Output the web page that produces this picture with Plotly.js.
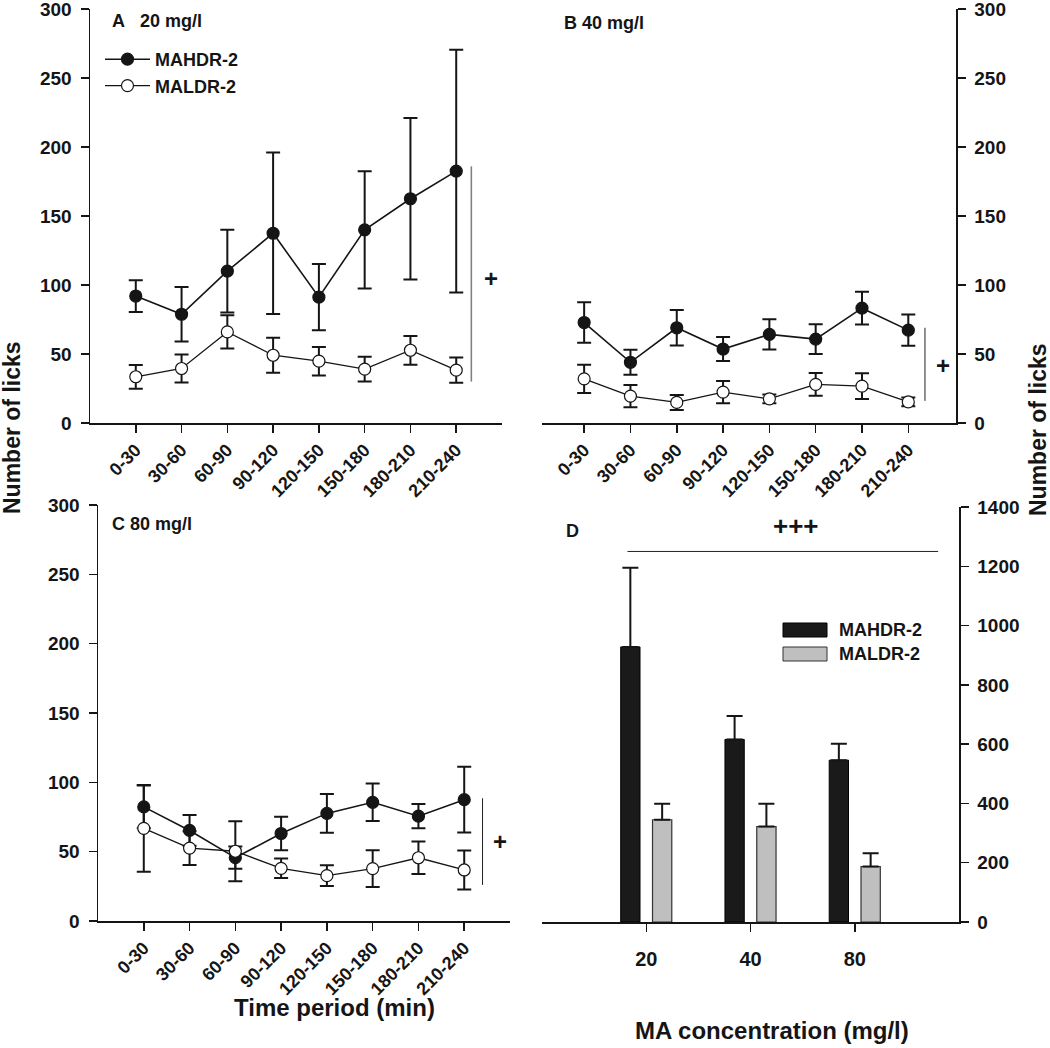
<!DOCTYPE html>
<html>
<head>
<meta charset="utf-8">
<script src="https://cdn.plot.ly/plotly-3.0.1.min.js"></script>
<style>html,body{margin:0;padding:0;background:#fff;}#chart{width:1050px;height:1048px;}</style>
</head>
<body>
<div id="chart"></div>
<script>
// ---------- data ----------
const periods = ['0-30','30-60','60-90','90-120','120-150','150-180','180-210','210-240'];
const seriesNames = ['MAHDR-2','MALDR-2'];

// Panel A: 20 mg/l
const a_hdr = [92, 78.8, 110, 137.5, 91.2, 140, 162.5, 182.5];
const a_hdr_sem = [11.5, 19.8, 30, 58.5, 24, 42.5, 58.5, 88];
const a_ldr = [33.5, 39.5, 66, 49.1, 44.8, 39, 52.7, 38.3];
const a_ldr_sem = [8.6, 10.2, 12, 12.6, 10.3, 9, 10.4, 9.2];

// Panel B: 40 mg/l
const b_hdr = [72.8, 44, 69, 53.6, 64.2, 60.8, 83.2, 67.3];
const b_hdr_sem = [14.7, 9, 12.8, 8.7, 11, 10.8, 11.9, 11.4];
const b_ldr = [32, 19.5, 14.9, 22.4, 17.5, 28, 26.7, 15.3];
const b_ldr_sem = [10.2, 8.1, 5.4, 8, 3.2, 8.2, 9.3, 3.2];

// Panel C: 80 mg/l
const c_hdr = [82.3, 65.3, 45.7, 63.1, 77.6, 85.6, 75.6, 87.5];
const c_hdr_sem = [15.5, 11.1, 8, 12, 14, 13.5, 8.8, 23.7];
const c_ldr = [66.8, 52.6, 50.3, 38, 32.7, 37.8, 45.6, 36.8];
const c_ldr_sem = [31.2, 12.2, 21.7, 7, 7.5, 13.2, 11.7, 14.1];

// Panel D: totals by concentration
const concentrations = ['20','40','80'];
const d_hdr = [928, 616, 546];
const d_hdr_sem = [267, 79, 55];
const d_ldr = [345, 322, 187];
const d_ldr_sem = [54, 77, 45];

// significance markers [x index, y0, y1] and labels
const sigA = [7.33, 30, 186];
const sigB = [7.36, 16, 69];
const sigC = [7.40, 26, 88.5];
const sigD = [-0.18, 2.80, 1250];
const sigLabel = {A:'+', B:'+', C:'+', D:'+++'};

// ---------- styling helpers ----------
const W = 1050, H = 1048;
const X = p => p / W;
const Y = p => 1 - p / H;
const FONT = 'Liberation Sans, Arial, sans-serif';
const NARROW = 'Liberation Sans Narrow, Arial Narrow, Liberation Sans, Arial, sans-serif';
const INK = '#151515';

function lineTrace(x, y, sem, name, filled, xa, ya, showleg) {
  return {
    type: 'scatter', mode: 'lines+markers', x: x, y: y, name: name,
    xaxis: xa, yaxis: ya, showlegend: showleg, legend: 'legend',
    line: {color: INK, width: filled ? 1.6 : 1.3},
    marker: {symbol: 'circle', size: 12, color: filled ? INK : '#ffffff', line: {color: INK, width: 1.2}},
    error_y: {type: 'data', array: sem, visible: true, color: INK, thickness: 2, width: 7},
    cliponaxis: false
  };
}

const traces = [
  lineTrace(periods, a_hdr, a_hdr_sem, seriesNames[0], true, 'x', 'y', true),
  lineTrace(periods, a_ldr, a_ldr_sem, seriesNames[1], false, 'x', 'y', true),
  lineTrace(periods, b_hdr, b_hdr_sem, seriesNames[0], true, 'x2', 'y2', false),
  lineTrace(periods, b_ldr, b_ldr_sem, seriesNames[1], false, 'x2', 'y2', false),
  lineTrace(periods, c_hdr, c_hdr_sem, seriesNames[0], true, 'x3', 'y3', false),
  lineTrace(periods, c_ldr, c_ldr_sem, seriesNames[1], false, 'x3', 'y3', false),
  {
    type: 'bar', x: concentrations, y: d_hdr, name: seriesNames[0], xaxis: 'x4', yaxis: 'y4',
    width: 0.185, offset: -0.245, showlegend: false,
    marker: {color: '#1a1a1a', line: {color: '#000', width: 1}},
    error_y: {type: 'data', symmetric: false, array: d_hdr_sem, arrayminus: d_hdr_sem.map(() => 0), color: INK, thickness: 2, width: 8}
  },
  {
    type: 'bar', x: concentrations, y: d_ldr, name: seriesNames[1], xaxis: 'x4', yaxis: 'y4',
    width: 0.185, offset: 0.06, showlegend: false,
    marker: {color: '#bfbfbf', line: {color: '#333', width: 1.2}},
    error_y: {type: 'data', symmetric: false, array: d_ldr_sem, arrayminus: d_ldr_sem.map(() => 0), color: INK, thickness: 2, width: 8}
  }
];

const tickFont = {family: FONT, size: 19, color: INK, weight: 'bold'};
const xTickFont = {family: FONT, size: 18, color: INK, weight: 'bold'};

function xAxis(domain, range, anchor, extra) {
  return Object.assign({
    domain: domain, range: range, anchor: anchor, type: 'category',
    showline: true, linecolor: INK, linewidth: 1.5, showgrid: false, zeroline: false,
    ticks: 'outside', ticklen: 8, tickwidth: 1.5, tickcolor: INK,
    tickangle: -45, tickfont: xTickFont, ticklabeloverflow: 'allow', fixedrange: true
  }, extra || {});
}
function yAxis(domain, range, dtick, anchor, side, extra) {
  return Object.assign({
    domain: domain, range: range, dtick: dtick, tick0: 0, anchor: anchor, side: side,
    showline: true, linecolor: INK, linewidth: 1.5, showgrid: false, zeroline: false,
    ticks: 'outside', ticklen: 8, tickwidth: 1.5, tickcolor: INK,
    tickfont: tickFont, ticklabelstandoff: 5, ticklabeloverflow: 'allow', fixedrange: true
  }, extra || {});
}

const shapes = [
  {type: 'line', xref: 'x', yref: 'y', x0: sigA[0], x1: sigA[0], y0: sigA[1], y1: sigA[2], line: {color: '#808080', width: 1.6}},
  {type: 'line', xref: 'x2', yref: 'y2', x0: sigB[0], x1: sigB[0], y0: sigB[1], y1: sigB[2], line: {color: '#222', width: 1}},
  {type: 'line', xref: 'x3', yref: 'y3', x0: sigC[0], x1: sigC[0], y0: sigC[1], y1: sigC[2], line: {color: '#222', width: 1}},
  {type: 'line', xref: 'x4', yref: 'y4', x0: sigD[0], x1: sigD[1], y0: sigD[2], y1: sigD[2], line: {color: '#222', width: 1}},
  // custom legend swatches for panel D
  {type: 'rect', xref: 'paper', yref: 'paper', x0: X(783), x1: X(827), y0: Y(637), y1: Y(623), fillcolor: '#1a1a1a', line: {color: '#000', width: 1}},
  {type: 'rect', xref: 'paper', yref: 'paper', x0: X(783), x1: X(827), y0: Y(661), y1: Y(647), fillcolor: '#bfbfbf', line: {color: '#333', width: 1}}
];

const bold = (txt, size, extra) => Object.assign({text: txt, showarrow: false, font: {family: FONT, size: size, color: INK, weight: 'bold'}}, extra);

const annotations = [
  bold('A&nbsp;&nbsp;&nbsp;20 mg/l', 18, {xref: 'paper', yref: 'paper', x: X(110), y: Y(21), xanchor: 'left', yanchor: 'middle'}),
  bold('B 40 mg/l', 18, {xref: 'paper', yref: 'paper', x: X(562), y: Y(23), xanchor: 'left', yanchor: 'middle'}),
  bold('C 80 mg/l', 18, {xref: 'paper', yref: 'paper', x: X(110), y: Y(524), xanchor: 'left', yanchor: 'middle'}),
  bold('D', 18, {xref: 'paper', yref: 'paper', x: X(564), y: Y(531), xanchor: 'left', yanchor: 'middle'}),
  bold(sigLabel.A, 24, {xref: 'x', yref: 'y', x: 7.77, y: 105, xanchor: 'center', yanchor: 'middle'}),
  bold(sigLabel.B, 24, {xref: 'x2', yref: 'y2', x: 7.74, y: 41.6, xanchor: 'center', yanchor: 'middle'}),
  bold(sigLabel.C, 24, {xref: 'x3', yref: 'y3', x: 7.78, y: 57, xanchor: 'center', yanchor: 'middle'}),
  bold(sigLabel.D, 26, {xref: 'x4', yref: 'y4', x: 1.44, y: 1335, xanchor: 'center', yanchor: 'middle'}),
  bold(seriesNames[0], 18, {xref: 'paper', yref: 'paper', x: X(837), y: Y(630), xanchor: 'left', yanchor: 'middle'}),
  bold(seriesNames[1], 18, {xref: 'paper', yref: 'paper', x: X(837), y: Y(654), xanchor: 'left', yanchor: 'middle'}),
  bold('Number of licks', 23, {xref: 'paper', yref: 'paper', x: X(12), y: Y(428), textangle: -90, xanchor: 'center', yanchor: 'middle'}),
  bold('Number of licks', 23, {xref: 'paper', yref: 'paper', x: X(1038), y: Y(430), textangle: -90, xanchor: 'center', yanchor: 'middle'}),
  {text: 'Time period (min)', showarrow: false, xref: 'paper', yref: 'paper', x: X(334), y: Y(1007), xanchor: 'center', yanchor: 'middle',
   font: {family: NARROW, size: 24, color: INK, weight: 'bold'}},
  {text: 'MA concentration (mg/l)', showarrow: false, xref: 'paper', yref: 'paper', x: X(772), y: Y(1030), xanchor: 'center', yanchor: 'middle',
   font: {family: NARROW, size: 24, color: INK, weight: 'bold'}}
];

const layout = {
  width: W, height: H,
  margin: {l: 0, r: 0, t: 0, b: 0, pad: 0},
  paper_bgcolor: '#ffffff', plot_bgcolor: '#ffffff',
  font: {family: FONT, color: INK},
  showlegend: true,
  legend: {x: X(100), y: Y(41), xanchor: 'left', yanchor: 'top', bgcolor: 'rgba(0,0,0,0)',
           font: {family: FONT, size: 18, color: INK, weight: 'bold'}, itemwidth: 45, tracegroupgap: 0},
  xaxis:  xAxis([X(90), X(502)], [-1, 8], 'y'),
  yaxis:  yAxis([Y(423), Y(9)], [0, 300], 50, 'x', 'left'),
  xaxis2: xAxis([X(542), X(956)], [-0.91, 8.03], 'y2'),
  yaxis2: yAxis([Y(423), Y(9)], [0, 300], 50, 'x2', 'right'),
  xaxis3: xAxis([X(98), X(510)], [-1, 8], 'y3'),
  yaxis3: yAxis([Y(921), Y(505)], [0, 300], 50, 'x3', 'left'),
  xaxis4: xAxis([X(542), X(959)], [-1, 3], 'y4', {tickangle: 0, ticklabelstandoff: 10,
           tickfont: {family: NARROW, size: 20, color: INK, weight: 'bold'}}),
  yaxis4: yAxis([Y(922), Y(507)], [0, 1400], 200, 'x4', 'right'),
  shapes: shapes,
  annotations: annotations
};

Plotly.newPlot('chart', traces, layout, {displayModeBar: false, staticPlot: true});
</script>
</body>
</html>
